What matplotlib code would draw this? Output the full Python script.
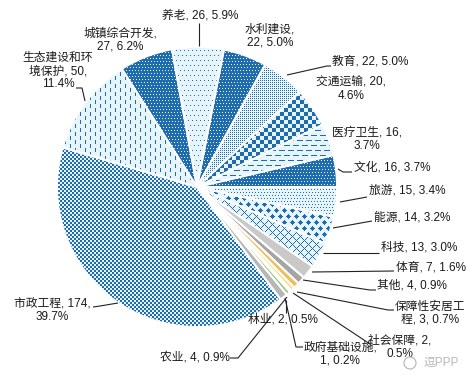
import numpy as np
import matplotlib
matplotlib.use("Agg")
import matplotlib.pyplot as plt
from matplotlib import font_manager
from matplotlib.colors import to_rgb
from matplotlib.patches import Circle

# ---------------- data ----------------
names = ['养老', '水利建设', '教育', '交通运输', '医疗卫生', '文化', '旅游', '能源', '科技',
         '体育', '其他', '保障性安居工程', '社会保障', '政府基础设施', '林业', '农业',
         '市政工程', '生态建设和环境保护', '城镇综合开发']
values = [26, 22, 22, 20, 16, 16, 15, 14, 13, 7, 4, 3, 2, 1, 2, 4, 174, 50, 27]

# ---------------- style ----------------
W, H = 467, 382
BLUE = '#1E6BAE'
BG = '#E6F4FB'
fills = ['sparse', 'bluedots', 'finedots', 'checker', 'dashes', 'bluedots', 'finedots3',
         'diamonds', 'lattice', '#C9C9C9', '#A5A5A5', '#F2BE5C', '#FFDB7A', '#7C9AD6',
         '#93C47D', '#B7B7B7', 'finechecker', 'vdash', 'bluedots']

avail = {f.name for f in font_manager.fontManager.ttflist}
fam = [f for f in ['Liberation Sans Narrow', 'Liberation Sans'] if f in avail][:1] + ['Noto Sans CJK SC']
plt.rcParams['font.family'] = fam
FS = 8.5

Yg, Xg = np.mgrid[0:H, 0:W]


def mask_for(kind):
    X, Y = Xg, Yg
    if kind == 'sparse':
        return (Y % 5 == 0) & ((X + 2 * ((Y // 5) % 2)) % 4 == 0)
    if kind == 'bluedots':
        return ~((Y % 3 == 1) & ((X + 1 * ((Y // 3) % 2)) % 3 == 1))
    if kind == 'finedots':
        return (X % 2 == 0) & (Y % 2 == 0)
    if kind == 'finedots3':
        return (Y % 3 == 0) & ((X + (Y // 3) % 2 * 1) % 3 == 0)
    if kind == 'checker':
        return ((X // 4 + Y // 4) % 2) == 0
    if kind == 'finechecker':
        return ((X // 2 + Y // 2) % 2) == 0
    if kind == 'dashes':
        return (Y % 5 == 0) & (((X + 4 * ((Y // 5) % 2)) % 9) < 6)
    if kind == 'diamonds':
        row = (Y + 3) // 6
        dy = Y - 6 * row
        off = 4 * (row % 2)
        mx = (X - off + 4) % 8 - 4
        return (np.abs(mx) + np.abs(dy)) <= 2
    if kind == 'lattice':
        return ((X + Y) % 8 == 0) | ((X - Y) % 8 == 0)
    if kind == 'vdash':
        return (X % 5 == 0) & (((Y + 4 * ((X // 5) % 2)) % 8) < 4)
    return None


fig = plt.figure(figsize=(W / 100, H / 100), dpi=100)
ax = fig.add_axes([0, 0, 1, 1])

center = (197, H - 187)
radius = 140
startangle = 100.3

wedges, _ = ax.pie(values, startangle=startangle, counterclock=False, center=center,
                   radius=radius, wedgeprops=dict(edgecolor='none', linewidth=0))
for w, f in zip(wedges, fills):
    m = mask_for(f)
    if m is None:
        w.set_facecolor(f)
    else:
        w.set_facecolor(BG)
        img = np.empty((H, W, 3))
        img[:] = to_rgb(BG)
        img[m] = to_rgb(BLUE)
        im = ax.imshow(img, extent=(0, W, 0, H), origin='upper', interpolation='nearest',
                       zorder=1.5, aspect='auto')
        im.set_clip_path(w)

# white separators
ax.pie(values, startangle=startangle, counterclock=False, center=center, radius=radius,
       wedgeprops=dict(facecolor='none', edgecolor='white', linewidth=1.4, zorder=3))

ax.set_xlim(0, W)
ax.set_ylim(0, H)
ax.set_aspect('equal')
ax.axis('off')

# ---------------- labels (image-pixel layout) ----------------
layout = {
    '养老': (200, 15, 'center', '{n}, {v}, {p}', [(199, 23), (199, 46)]),
    '水利建设': (270, 36, 'center', '{n},\n{v}, {p}', None),
    '教育': (332, 62, 'left', '{n}, {v}, {p}', [(287, 75), (327, 66), (331, 66)]),
    '交通运输': (351, 89, 'center', '{n}, {v},\n{p}', None),
    '医疗卫生': (367, 139, 'center', '{n}, {v},\n{p}', None),
    '文化': (354, 168, 'left', '{n}, {v}, {p}', [(338, 169), (343, 172), (352, 172)]),
    '旅游': (369, 192, 'left', '{n}, {v}, {p}', [(340, 202), (367, 197)]),
    '能源': (374, 218, 'left', '{n}, {v}, {p}', [(333, 228), (372, 221)]),
    '科技': (381, 248, 'left', '{n}, {v}, {p}', [(323, 253), (379, 253)]),
    '体育': (396, 267, 'left', '{n}, {v}, {p}', [(312, 272), (394, 271)]),
    '其他': (377, 285, 'left', '{n}, {v}, {p}', [(303, 280), (370, 290), (376, 290)]),
    '保障性安居工程': (430, 313, 'center', '{a}\n{b}, {v}, {p}', [(297, 292), (388, 310), (394, 310)], 6),
    '社会保障': (400, 347, 'center', '{n}, {v},\n{p}', [(293, 293), (370, 344)]),
    '政府基础设施': (340, 354, 'center', '{n},\n{v}, {p}', [(285, 298), (296, 347), (303, 347)]),
    '林业': (248, 320, 'left', '{n}, {v}, {p}', [(286, 300), (286, 313)]),
    '农业': (160, 357, 'left', '{n}, {v}, {p}', [(230, 358), (238, 358), (287, 297)]),
    '市政工程': (52, 310, 'center', '{n}, {v},\n{p}', [(93, 307), (100, 306), (118, 303)]),
    '生态建设和环境保护': (58, 71, 'center', '{a}\n{b}, {v},\n{p}', [(76, 88), (82, 88), (85, 101)], 6),
    '城镇综合开发': (120, 40, 'center', '{n},\n{v}, {p}', None),
}

total = sum(values)
for n, v in zip(names, values):
    entry = layout[n]
    x, y, ha, fmt, line = entry[:5]
    k = entry[5] if len(entry) > 5 else len(n)
    p = f'{v / total * 100:.1f}%'
    txt = fmt.format(n=n, v=v, p=p, a=n[:k], b=n[k:])
    ax.text(x, H - y, txt, ha=ha, va='center', multialignment='center',
            fontsize=FS, color='#1a1a1a', linespacing=1.15, zorder=5)
    if line:
        xs = [pt[0] for pt in line]
        ys = [H - pt[1] for pt in line]
        ax.plot(xs, ys, color='#222222', lw=0.8, zorder=4, solid_capstyle='butt')

# watermark
ax.add_patch(Circle((410, H - 363), 6, fill=False, ec='#BBBBBB', lw=0.9, zorder=5))
ax.text(424, H - 363, '逗PPP', ha='left', va='center', fontsize=8.5, color='#B8B8B8', zorder=5)

fig.savefig('out.png', dpi=100)
